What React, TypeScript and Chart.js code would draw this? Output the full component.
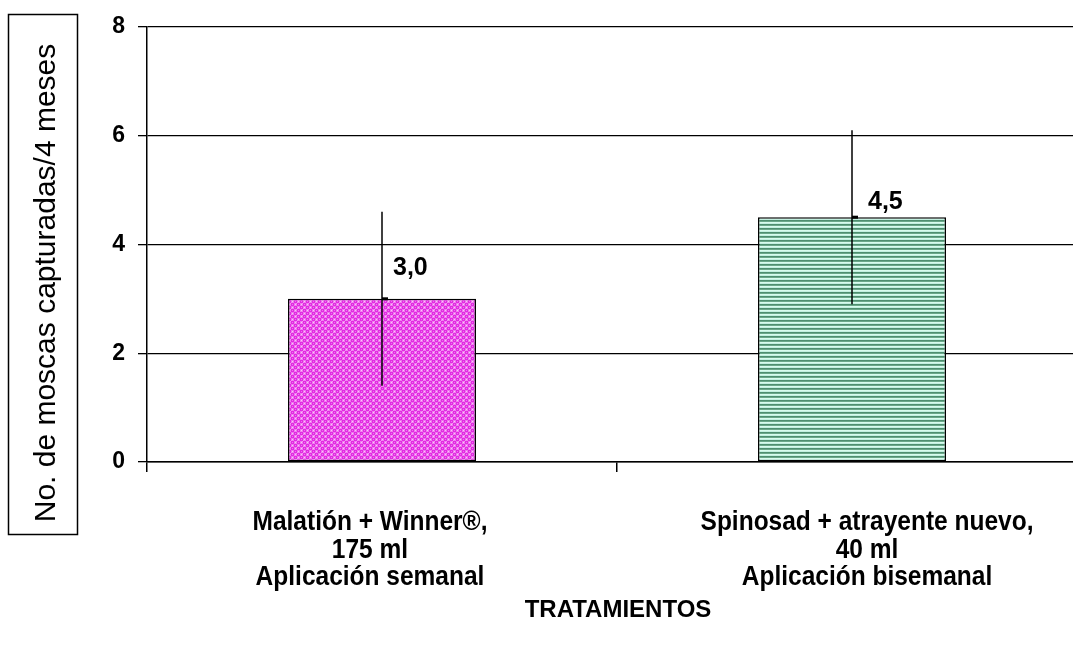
import React, { useEffect, useRef } from 'react';
import Chart from 'chart.js/auto';

const categories: string[][] = [
  ['Malatión + Winner®,', '175 ml', 'Aplicación semanal'],
  ['Spinosad + atrayente nuevo,', '40 ml', 'Aplicación bisemanal'],
];
const meanValues = [3.0, 4.5];
const errorValues = [1.6, 1.6];
const valueLabels = ['3,0', '4,5'];
const yMin = 0;
const yMax = 8;
const yStep = 2;
const yTitle = 'No. de moscas capturadas/4 meses';
const xTitle = 'TRATAMIENTOS';

const ARIAL = "'Liberation Sans', Arial, sans-serif";

function makeDotPattern(): CanvasPattern | string {
  const c = document.createElement('canvas');
  c.width = 6;
  c.height = 6;
  const g = c.getContext('2d');
  if (!g) return '#e040e0';
  g.fillStyle = '#f9c4f9';
  g.fillRect(0, 0, 6, 6);
  g.fillStyle = '#e22ae2';
  const centers = [[1.5, 1.5], [4.5, 4.5], [-1.5, 4.5], [7.5, 1.5], [4.5, -1.5], [1.5, 7.5]];
  for (const [cx, cy] of centers) {
    g.beginPath();
    g.arc(cx, cy, 2.0, 0, Math.PI * 2);
    g.fill();
  }
  g.fillStyle = '#f070f0';
  g.fillRect(1, 1, 1, 1);
  g.fillRect(4, 4, 1, 1);
  const p = g.createPattern(c, 'repeat');
  return p || '#e040e0';
}

function makeStripePattern(): CanvasPattern | string {
  const c = document.createElement('canvas');
  c.width = 4;
  c.height = 4;
  const g = c.getContext('2d');
  if (!g) return '#7ab89a';
  const rows = ['#4e8f70', '#6aa88a', '#d8fcee', '#c2f0e0'];
  rows.forEach((col, i) => {
    g.fillStyle = col;
    g.fillRect(0, i, 4, 1);
  });
  const p = g.createPattern(c, 'repeat');
  return p || '#7ab89a';
}

const labelDx = [11, 16];
const labelDy = [24, 8];
const catDx = [-12, 15];

const overlayPlugin = {
  id: 'overlay',
  afterDatasetsDraw(chart: any) {
    const ctx = chart.ctx as CanvasRenderingContext2D;
    const meta = chart.getDatasetMeta(0);
    const yScale = chart.scales.y;
    ctx.save();
    meta.data.forEach((bar: any, i: number) => {
      const x = bar.x;
      const v = meanValues[i];
      const e = errorValues[i];
      const yTop = yScale.getPixelForValue(v + e);
      const yBot = yScale.getPixelForValue(v - e);
      ctx.strokeStyle = '#000';
      ctx.lineWidth = 1.5;
      ctx.beginPath();
      ctx.moveTo(x, yTop);
      ctx.lineTo(x, yBot);
      ctx.stroke();
      ctx.lineWidth = 3;
      ctx.beginPath();
      ctx.moveTo(x, bar.y);
      ctx.lineTo(x + 6, bar.y);
      ctx.stroke();
      ctx.fillStyle = '#000';
      ctx.font = `bold 25px ${ARIAL}`;
      ctx.textAlign = 'left';
      ctx.textBaseline = 'alphabetic';
      ctx.fillText(valueLabels[i], x + labelDx[i], bar.y - labelDy[i]);
    });
    ctx.restore();
  },
  afterDraw(chart: any) {
    const ctx = chart.ctx as CanvasRenderingContext2D;
    const xScale = chart.scales.x;
    ctx.save();
    ctx.fillStyle = '#000';
    ctx.font = `bold 28px ${ARIAL}`;
    ctx.textAlign = 'center';
    ctx.textBaseline = 'alphabetic';
    categories.forEach((lines, i) => {
      const cx = xScale.getPixelForValue(i) + catDx[i];
      lines.forEach((ln, j) => {
        ctx.save();
        ctx.translate(cx, 530 + j * 27.5);
        ctx.scale(0.875, 1);
        ctx.fillText(ln, 0, 0);
        ctx.restore();
      });
    });
    ctx.font = `bold 24px ${ARIAL}`;
    ctx.fillText(xTitle, 618, 617);
    ctx.strokeStyle = '#000';
    ctx.lineWidth = 1.5;
    ctx.strokeRect(8.5, 14.5, 69, 520);
    ctx.translate(47, 283);
    ctx.rotate(-Math.PI / 2);
    ctx.font = `30px ${ARIAL}`;
    ctx.textBaseline = 'middle';
    ctx.textAlign = 'center';
    ctx.fillText(yTitle, 0, 0);
    ctx.restore();
  },
};

export default function App() {
  const ref = useRef<HTMLCanvasElement | null>(null);
  useEffect(() => {
    if (!ref.current) return;
    const chart = new Chart(ref.current, {
      type: 'bar',
      data: {
        labels: categories.map((c) => c.join(' ')),
        datasets: [
          {
            data: meanValues,
            backgroundColor: [makeDotPattern(), makeStripePattern()] as any,
            borderColor: '#000',
            borderWidth: 1.5,
            borderSkipped: false,
            barPercentage: 0.4,
            categoryPercentage: 1,
          },
        ],
      },
      options: {
        responsive: false,
        animation: false,
        devicePixelRatio: 1,
        layout: { padding: { top: 24, right: 3, left: 0, bottom: 0 } },
        plugins: { legend: { display: false }, tooltip: { enabled: false } },
        scales: {
          x: {
            offset: true,
            grid: { offset: true, drawOnChartArea: false, color: '#000', lineWidth: 1.5, tickLength: 10 },
            border: { color: '#000', width: 1.5 },
            ticks: { color: 'rgba(0,0,0,0)', font: { size: 2 } },
            afterFit: (s: any) => {
              s.height = 186;
            },
          },
          y: {
            min: yMin,
            max: yMax,
            ticks: { stepSize: yStep, color: '#000', font: { family: ARIAL, size: 23, weight: 'bold' }, padding: 13 },
            grid: { color: '#000', lineWidth: 1.3, tickLength: 9 },
            border: { color: '#000', width: 1.5 },
            afterFit: (s: any) => {
              s.width = 147;
            },
          },
        },
      },
      plugins: [overlayPlugin],
    });
    return () => chart.destroy();
  }, []);
  return (
    <div style={{ position: 'absolute', left: 0, top: 0, width: 1073, height: 648, overflow: 'hidden', background: '#fff' }}>
      <canvas ref={ref} width={1090} height={648} style={{ display: 'block' }} />
    </div>
  );
}
